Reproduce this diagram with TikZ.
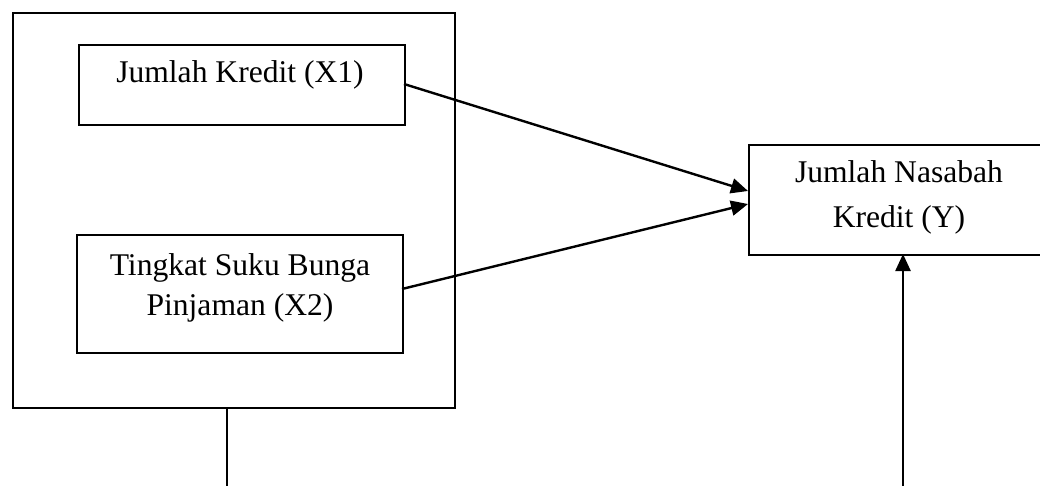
\documentclass[tikz,border=0pt]{standalone}
\usepackage{fontspec}
\setmainfont{Liberation Serif}
\usetikzlibrary{arrows.meta}
\begin{document}
\begin{tikzpicture}[x=1pt,y=-1pt,
  boxshape/.style={draw,line width=1.8pt,rectangle,inner sep=0pt,anchor=north west},
  lbl/.style={font=\fontsize{31.6}{40}\selectfont,anchor=base,inner sep=0pt},
  arr/.style={line width=2.4pt,-{Triangle[length=17pt,width=15pt]}},
  plain/.style={line width=1.8pt}]
\useasboundingbox (0,0) rectangle (1040,486);
\begin{scope}
\clip (0,0) rectangle (1040,486);
\node[boxshape,minimum width=442pt,minimum height=395pt] (outer) at (12,12) {};
\node[boxshape,minimum width=326pt,minimum height=80pt] (x1) at (78,44) {};
\node[boxshape,minimum width=326pt,minimum height=118pt] (x2) at (76,234) {};
\node[boxshape,minimum width=310pt,minimum height=110pt] (y) at (748,144) {};
\node[lbl] (t1) at (240,83) {Jumlah Kredit (X1)};
\node[lbl] (t2a) at (240,275) {Tingkat Suku Bunga};
\node[lbl] (t2b) at (240,315) {Pinjaman (X2)};
\node[lbl] (t3a) at (899,183) {Jumlah Nasabah};
\node[lbl] (t3b) at (899,227) {Kredit (Y)};
\coordinate (p1) at (404,84);
\coordinate (q1) at (748,191);
\coordinate (p2) at (402,289);
\coordinate (q2) at (748,204);
\coordinate (botl) at (227,486);
\coordinate (botr) at (903,486);
\coordinate (ytip) at (903,254);
\draw[arr] (p1) -- (q1);
\draw[arr] (p2) -- (q2);
\draw[plain] (outer.south -| botl) -- (botl);
\draw[arr] (botr) -- (ytip);
\end{scope}
\end{tikzpicture}
\end{document}
